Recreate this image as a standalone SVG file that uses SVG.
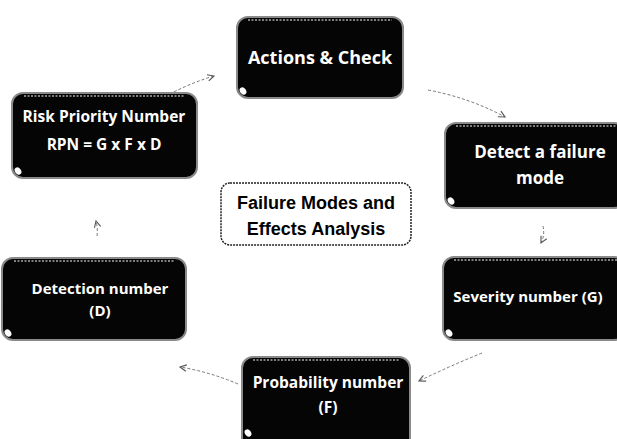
<svg xmlns="http://www.w3.org/2000/svg" width="617" height="439" viewBox="0 0 617 439">
  <style>
    .box { fill: #050505; stroke: #8a8a8a; stroke-width: 2; }
    .shine { fill: none; stroke: #a8a8a8; stroke-width: 1.5; stroke-dasharray: 2 1.5; }
    .gloss { fill: #ffffff; }
    .lbl { font-family: "Open Sans", "Noto Sans", sans-serif; font-weight: bold; fill: #ffffff; text-anchor: middle; }
    .title { font-family: "Liberation Sans", Arial, sans-serif; font-weight: bold; font-size: 18px; fill: #000000; text-anchor: middle; }
    .hub { fill: #ffffff; stroke: #222222; stroke-width: 1.5; stroke-dasharray: 2 1; }
    .link { fill: none; stroke: #777777; stroke-width: 1; stroke-dasharray: 3 2; marker-end: url(#head); }
  </style>
  <defs>
    <marker id="head" viewBox="0 0 10 10" refX="9" refY="5" markerWidth="8" markerHeight="8" orient="auto-start-reverse" markerUnits="userSpaceOnUse">
      <path d="M1,1 L9,5 L1,9" fill="none" stroke="#555555" stroke-width="1.4"/>
    </marker>
  </defs>
  <rect width="617" height="439" fill="#ffffff"/>

  <g id="connectors">
    <path class="link" d="M148,107 Q180,86 214,76"/>
    <path class="link" d="M428,90 Q470,98 505,117"/>
    <path class="link" d="M543,226 Q545,235 541,243"/>
    <path class="link" d="M482,353 Q450,366 419,381"/>
    <path class="link" d="M238,384 Q210,372 180,367"/>
    <path class="link" d="M97,236 Q98,229 96,221"/>
  </g>

  <g id="actions-check">
    <rect class="box" x="237" y="17" width="166" height="81" rx="11"/>
    <path class="shine" d="M248,20 H392"/>
    <ellipse class="gloss" cx="243" cy="91" rx="3" ry="4" transform="rotate(-35 243 91)"/>
    <text class="lbl" x="320" y="64" font-size="18">Actions &amp; Check</text>
  </g>

  <g id="detect-failure">
    <rect class="box" x="445" y="123" width="180" height="85" rx="11"/>
    <path class="shine" d="M456,126 H617"/>
    <ellipse class="gloss" cx="451" cy="201" rx="3" ry="4" transform="rotate(-35 451 201)"/>
    <text class="lbl" x="540" y="158" font-size="17">Detect a failure</text>
    <text class="lbl" x="540" y="184" font-size="17">mode</text>
  </g>

  <g id="risk-priority">
    <rect class="box" x="12" y="93" width="185" height="85" rx="11"/>
    <path class="shine" d="M24,96 H185"/>
    <ellipse class="gloss" cx="18" cy="171" rx="3" ry="4" transform="rotate(-35 18 171)"/>
    <text class="lbl" x="104" y="122" font-size="15.5">Risk Priority Number</text>
    <text class="lbl" x="104" y="150" font-size="15.5">RPN = G x F x D</text>
  </g>

  <g id="fmea-hub">
    <rect class="hub" x="221" y="183" width="190" height="62" rx="9"/>
    <text class="title" x="316" y="209">Failure Modes and</text>
    <text class="title" x="316" y="235">Effects Analysis</text>
  </g>

  <g id="detection-number">
    <rect class="box" x="2" y="258" width="184" height="82" rx="11"/>
    <path class="shine" d="M14,261 H174"/>
    <ellipse class="gloss" cx="8" cy="333" rx="3" ry="4" transform="rotate(-35 8 333)"/>
    <text class="lbl" x="100" y="294" font-size="15">Detection number</text>
    <text class="lbl" x="100" y="316" font-size="15">(D)</text>
  </g>

  <g id="severity-number">
    <rect class="box" x="443" y="257" width="182" height="83" rx="11"/>
    <path class="shine" d="M454,260 H617"/>
    <ellipse class="gloss" cx="449" cy="333" rx="3" ry="4" transform="rotate(-35 449 333)"/>
    <text class="lbl" x="528" y="302" font-size="15">Severity number (G)</text>
  </g>

  <g id="probability-number">
    <rect class="box" x="242" y="357" width="168" height="92" rx="11"/>
    <path class="shine" d="M253,360 H399"/>
    <ellipse class="gloss" cx="248" cy="433" rx="3" ry="4" transform="rotate(-35 248 433)"/>
    <text class="lbl" x="328" y="388" font-size="15.5">Probability number</text>
    <text class="lbl" x="328" y="413" font-size="15.5">(F)</text>
  </g>
</svg>
